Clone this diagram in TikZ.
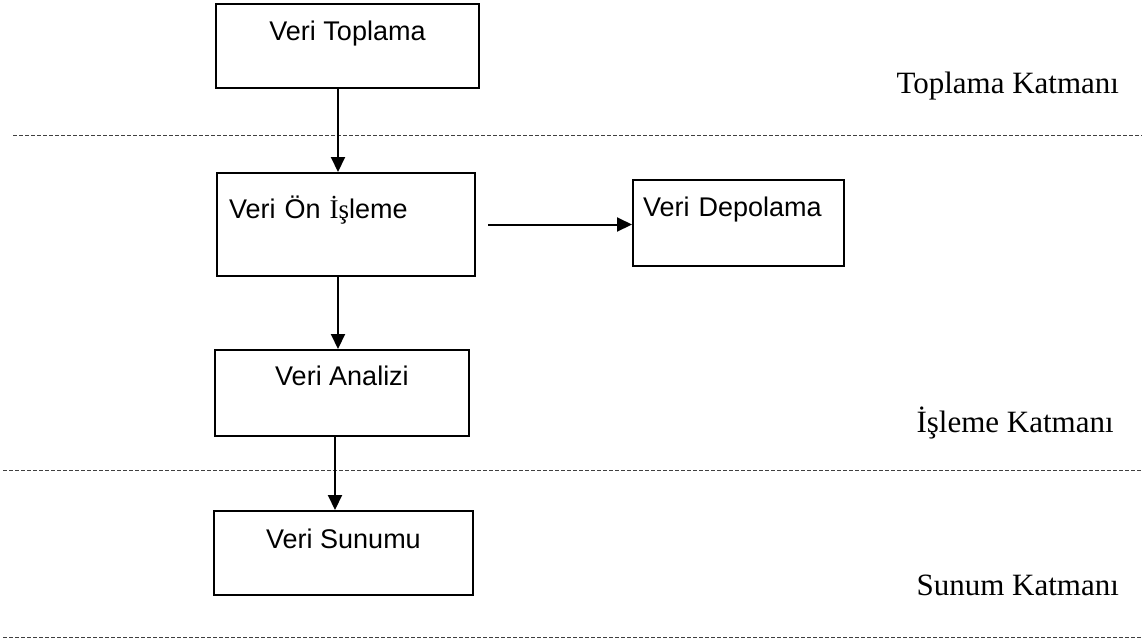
\documentclass[tikz,border=0pt]{standalone}
\usepackage{fontspec}
\setmainfont{Liberation Serif}
\newfontfamily\boxfont{Liberation Sans}
\usetikzlibrary{positioning,arrows.meta,calc}

\begin{document}
\begin{tikzpicture}[x=1pt, y=-1pt,
      box/.style={draw=black, line width=2pt, fill=white, inner sep=0pt,
        anchor=north west, font=\boxfont\fontsize{27}{30}\selectfont},
      lab/.style={anchor=base west, font=\fontsize{31}{36}\selectfont},
      sep/.style={dash pattern=on 4pt off 2pt, line width=1pt, color=black!75},
      arr/.style={-{Triangle[length=15pt, width=14pt]}, line width=2pt}]
    \useasboundingbox (0,0) rectangle (1142,641);
    % layer separators
    \draw[sep] (13,135) -- (1142,135);
    \draw[sep] (3,470) -- (1142,470);
    \draw[sep] (3,637) -- (1142,637);
    % boxes
    \node[box, minimum width=263pt, text height=36pt, text depth=48pt] (topl) at (215,3) {Veri Toplama};
    \node[box, minimum width=258pt, text height=45pt, text depth=58pt, text width=234pt, inner xsep=12pt, align=left] (onis) at (216,172) {Veri Ön {\rmfamily İş}leme};
    \node[box, minimum width=211pt, text height=36pt, text depth=50pt, text width=191pt, inner xsep=10pt, align=left] (depo) at (632,179) {Veri Depolama};
    \node[box, minimum width=254pt, text height=35pt, text depth=51pt] (anal) at (214,349) {Veri Analizi};
    \node[box, minimum width=259pt, text height=37pt, text depth=47pt] (sunu) at (213,510) {Veri Sunumu};
    % flow
    \draw[arr] ([xshift=-9.5pt]topl.south) -- ([xshift=-9.5pt]topl.south |- onis.north);
    \draw[arr] ([xshift=12pt]onis.east) -- (onis.east -| depo.west);
    \draw[arr] ([xshift=-8pt]onis.south) -- ([xshift=-8pt]onis.south |- anal.north);
    \draw[arr] ([xshift=-7pt]anal.south) -- ([xshift=-7pt]anal.south |- sunu.north);
    % layer names
    \node[lab] (ltop) at (893,93) {Toplama Katmanı};
    \node[lab] (lisl) at (913,432) {İşleme Katmanı};
    \node[lab] (lsun) at (913,595) {Sunum Katmanı};
\end{tikzpicture}
\end{document}
